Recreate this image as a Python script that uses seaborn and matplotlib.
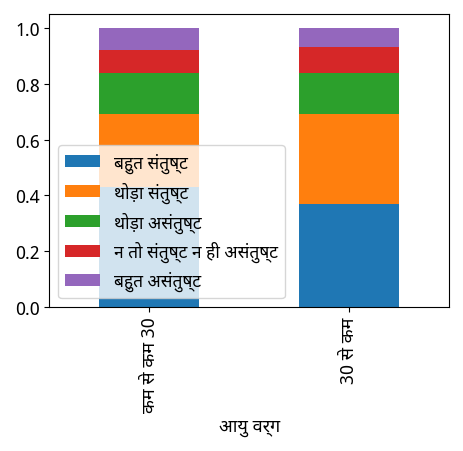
import matplotlib
matplotlib.use("Agg")
import matplotlib.pyplot as plt
import matplotlib.font_manager as fm
import pandas as pd
import seaborn as sns

categories = ['कम से कम 30', '30 से कम']
very_satisfied = [0.43, 0.37]
somewhat_satisfied = [0.26, 0.32]
somewhat_dissatisfied = [0.15, 0.15]
neutral = [0.08, 0.09]
very_dissatisfied = [0.08, 0.07]
labels = ['बहुत संतुष्ट', 'थोड़ा संतुष्ट', 'थोड़ा असंतुष्ट', 'न तो संतुष्ट न ही असंतुष्ट', 'बहुत असंतुष्ट']

names = {f.name for f in fm.fontManager.ttflist}
fams = [f for f in ['Noto Sans Devanagari', 'Lohit Devanagari', 'Mukta', 'Noto Sans', 'FreeSans', 'DejaVu Sans'] if f in names]
plt.rcParams['font.family'] = fams or ['DejaVu Sans']

df = pd.DataFrame({labels[0]: very_satisfied, labels[1]: somewhat_satisfied,
                   labels[2]: somewhat_dissatisfied, labels[3]: neutral,
                   labels[4]: very_dissatisfied}, index=categories)

fig, ax = plt.subplots(figsize=(4.64, 4.52), dpi=100)
colors = sns.color_palette('tab10', 5)
df.plot(kind='bar', stacked=True, ax=ax, color=colors, width=0.5)
ax.set_xlabel('आयु वर्ग', fontsize=13)
ax.set_yticks([0, 0.2, 0.4, 0.6, 0.8, 1.0])
ax.tick_params(labelsize=13)
ax.legend(loc='lower left', fontsize=12.5)
plt.tight_layout()
plt.savefig('out.png')
